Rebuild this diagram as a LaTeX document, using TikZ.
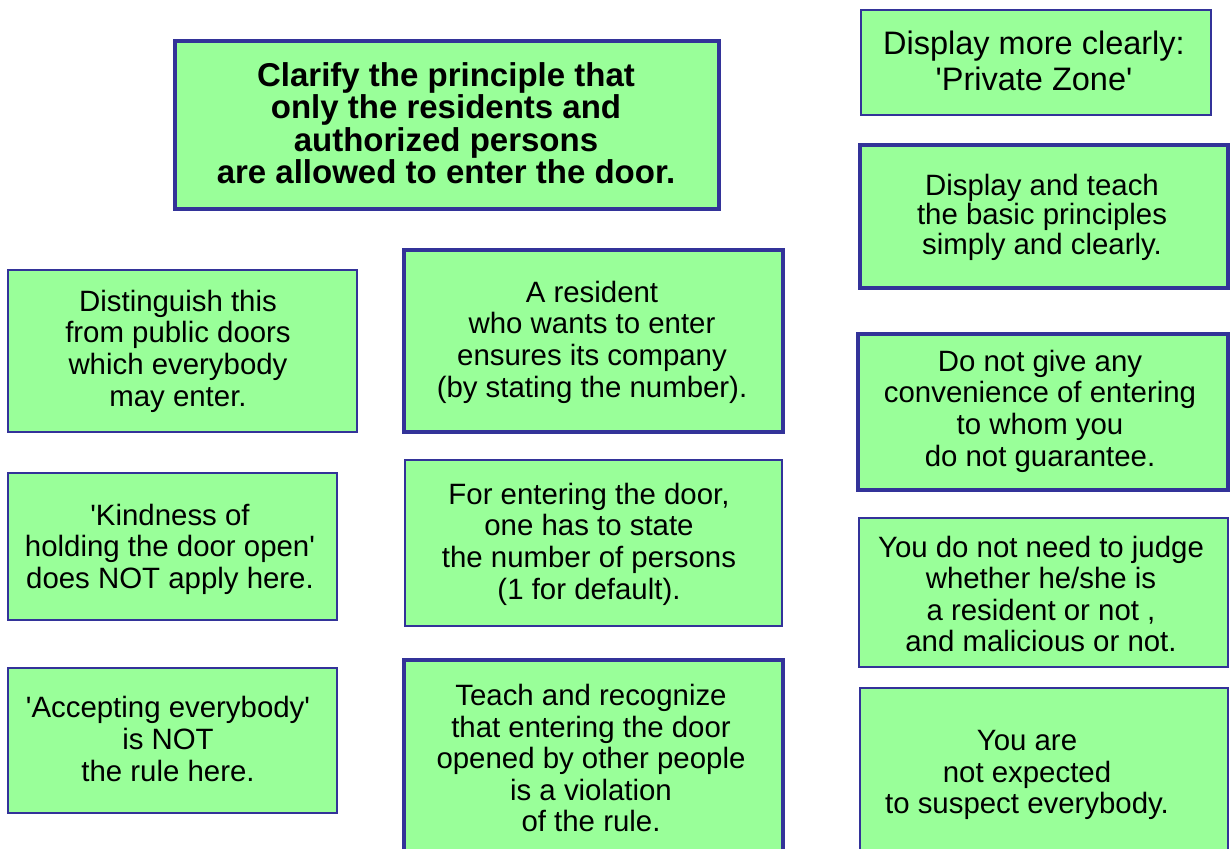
\documentclass[tikz,border=0pt]{standalone}
\usepackage{fontspec}
\setmainfont{Liberation Sans}
\newcommand{\apos}{\textquotesingle}
\definecolor{boxfill}{HTML}{99FF99}
\definecolor{boxline}{HTML}{333399}
\begin{document}
\begin{tikzpicture}[x=1pt,y=-1pt,
  thinbox/.style={draw=boxline,fill=boxfill,line width=1.2pt},
  thickbox/.style={draw=boxline,fill=boxfill,line width=3.5pt},
  txt/.style={align=center,inner sep=0pt,font=\fontsize{29.4}{31.6}\selectfont},
  tighttxt/.style={align=center,inner sep=0pt,font=\fontsize{29.4}{29.5}\selectfont},
  largetxt/.style={align=center,inner sep=0pt,font=\fontsize{32.5}{36}\selectfont},
  bigtxt/.style={align=center,inner sep=0pt,font=\fontsize{33}{32.5}\selectfont\bfseries}]
\useasboundingbox (0,0) rectangle (1230,848);
\clip (0,0) rectangle (1230,848);
% boxes
\draw[thickbox] (175,41) rectangle (719,209);
\draw[thinbox] (8,270) rectangle (357,432);
\draw[thickbox] (404,250) rectangle (783,432);
\draw[thinbox] (8,473) rectangle (337,620);
\draw[thinbox] (405,460) rectangle (782,626);
\draw[thinbox] (8,668) rectangle (337,813);
\draw[thickbox] (404,660) rectangle (783,870);
\draw[thinbox] (861,10) rectangle (1211,115);
\draw[thickbox] (860,145) rectangle (1228,288);
\draw[thickbox] (858,334) rectangle (1228,490);
\draw[thinbox] (859,518) rectangle (1228,667);
\draw[thinbox] (860,688) rectangle (1228,870);
% texts
\node[bigtxt] (t1) at (446,123) {Clarify the principle that\\only the residents and\\authorized persons\\are allowed to enter the door.};
\node[txt] (t2) at (178,351) {Distinguish this\\from public doors\\which everybody\\may enter.};
\node[txt] (t3) at (592,342) {A resident\\who wants to enter\\ensures its company\\(by stating the number).};
\node[txt] (t4) at (170,549) {\apos Kindness of\\holding the door open\apos\\does NOT apply here.};
\node[txt] (t5) at (589,544) {For entering the door,\\one has to state\\the number of persons\\(1 for default).};
\node[txt] (t6) at (168,739) {\apos Accepting everybody\apos\\is NOT\\the rule here.};
\node[txt,anchor=north] (t7) at (591,684) {Teach and recognize\\that entering the door\\opened by other people\\is a violation\\of the rule.};
\node[largetxt] (t8) at (1034,61) {Display more clearly:\\\apos Private Zone\apos};
\node[tighttxt] (t9) at (1042,217) {Display and teach\\the basic principles\\simply and clearly.};
\node[txt] (t10) at (1040,411) {Do not give any\\convenience of entering\\to whom you\\do not guarantee.};
\node[txt] (t11) at (1041,594) {You do not need to judge\\whether he/she is\\a resident or not ,\\and malicious or not.};
\node[txt,anchor=north] (t12) at (1027,730) {You are\\not expected\\to suspect everybody.};
\end{tikzpicture}
\end{document}
